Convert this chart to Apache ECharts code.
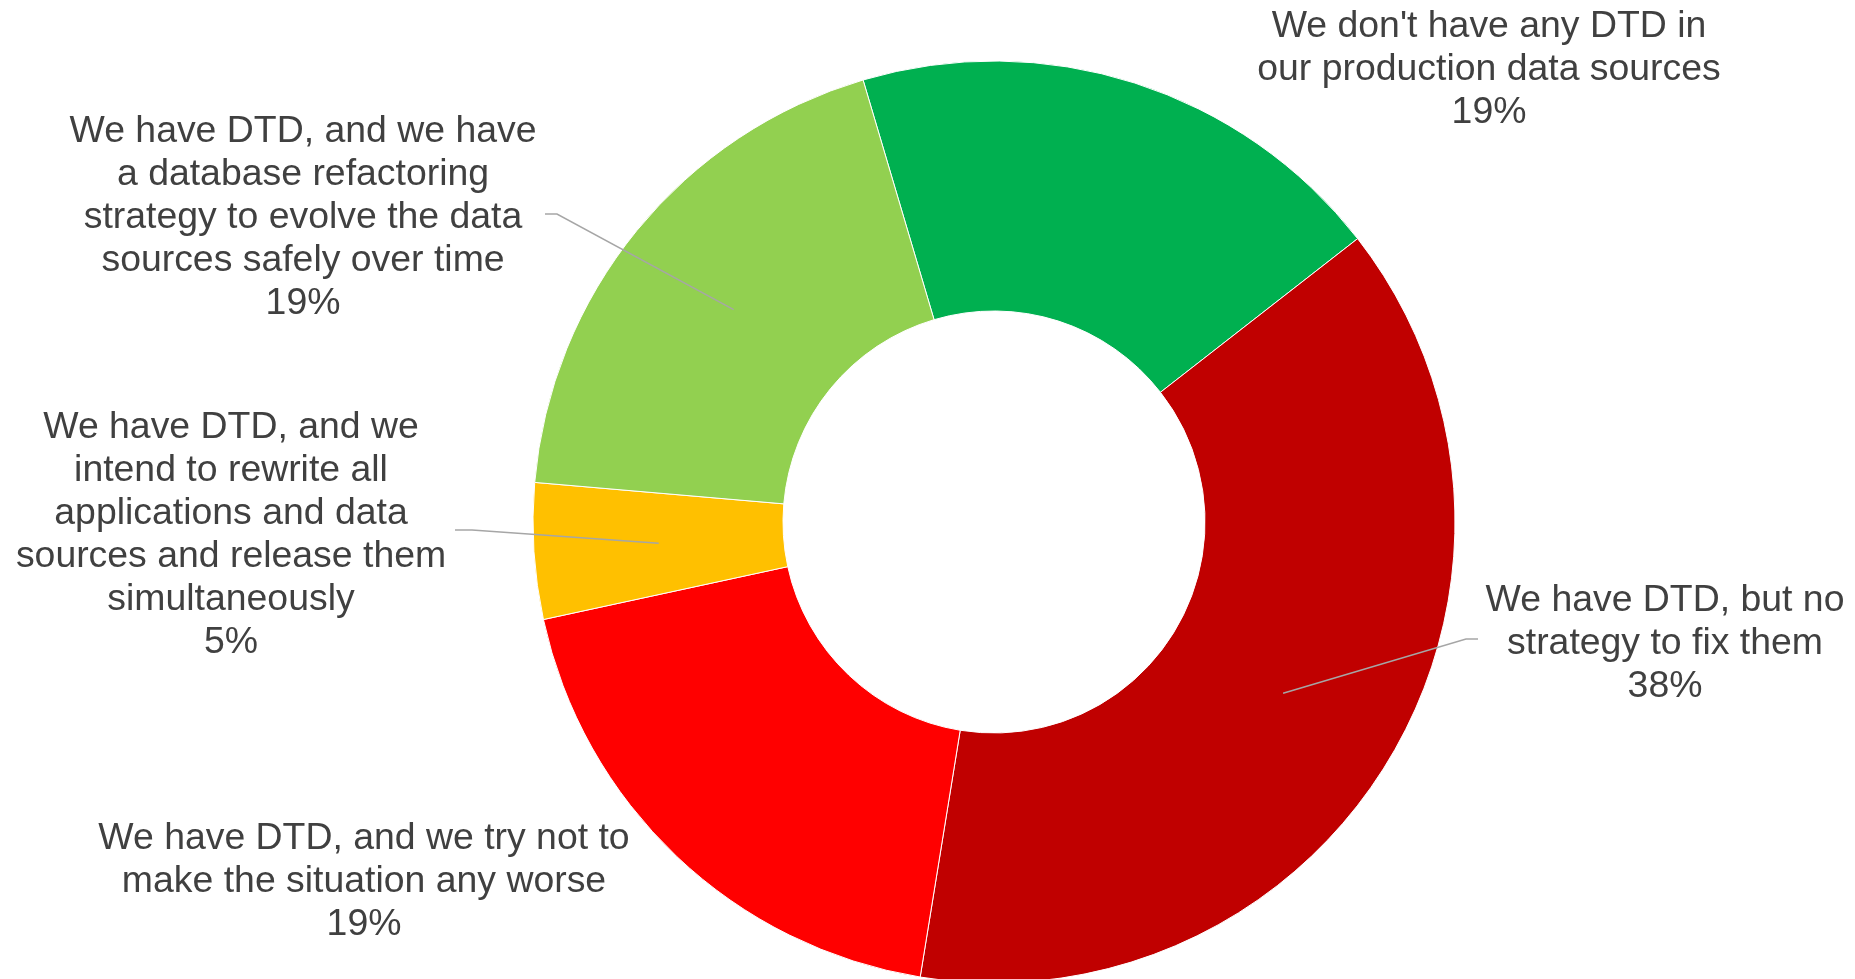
<!DOCTYPE html>
<html><head><meta charset="utf-8">
<script src="https://cdn.jsdelivr.net/npm/echarts@6/dist/echarts.min.js"></script>
<style>html,body{margin:0;padding:0;background:#fff}#c{width:1855px;height:979px}</style>
</head><body><div id="c"></div>
<script>
// Categories (label text, wrapped as in the reference)
const categories = [
  "We don't have any DTD in\nour production data sources",
  "We have DTD, but no\nstrategy to fix them",
  "We have DTD, and we try not to\nmake the situation any worse",
  "We have DTD, and we\nintend to rewrite all\napplications and data\nsources and release them\nsimultaneously",
  "We have DTD, and we have\na database refactoring\nstrategy to evolve the data\nsources safely over time"
];
// Response counts (percentages 19 / 38 / 19 / 5 / 19)
const values = [4, 8, 4, 1, 4];
const colors = ['#00B050', '#C00000', '#FF0000', '#FFC000', '#92D050'];
const showLeader = [false, true, false, true, true];

// label anchor positions (styling)
const labelPos = [[1489, 70], [1665, 644], [364, 882], [231, 535], [303, 218]];
const leaderEnd = [null, [[1466, 639], [1478, 639]], null, [[472, 530], [455, 530]], [[557, 214], [545, 214]]];

const chart = echarts.init(document.getElementById('c'), null, {renderer: 'canvas'});

const option = {
  backgroundColor: '#fff',
  animation: false,
  series: [{
    type: 'pie',
    center: [994, 522],
    radius: [211, 461],
    startAngle: 106.5,
    clockwise: true,
    avoidLabelOverlap: false,
    itemStyle: {borderColor: '#ffffff', borderWidth: 1},
    label: {
      show: true,
      position: 'outside',
      formatter: p => p.name + '\n' + Math.round(p.percent) + '%',
      color: '#404040',
      fontFamily: 'Liberation Sans, Arial, sans-serif',
      fontSize: 37.4,
      lineHeight: 43,
      align: 'center'
    },
    labelLine: {show: false},
    labelLayout: function (params) {
      const i = params.dataIndex;
      return {
        x: labelPos[i][0],
        y: labelPos[i][1],
        align: 'center',
        verticalAlign: 'middle'
      };
    },
    data: categories.map((c, i) => ({
      name: c,
      value: values[i],
      itemStyle: {color: colors[i]}
    }))
  }]
};
chart.setOption(option);

// Leader lines drawn on top of the slices, starting at each slice's mid point
function midPoint(idx) {
  const data = chart.getModel().getSeriesByIndex(0).getData();
  const L = data.getItemLayout(idx);
  const mid = (L.startAngle + L.endAngle) / 2;
  const rm = (L.r + L.r0) / 2;
  return [L.cx + rm * Math.cos(mid), L.cy + rm * Math.sin(mid)];
}
const graphics = [];
values.forEach((v, i) => {
  if (!showLeader[i]) return;
  const s = midPoint(i);
  graphics.push({
    type: 'polyline',
    z: 100,
    silent: true,
    shape: {points: [s, leaderEnd[i][0], leaderEnd[i][1]]},
    style: {stroke: '#A6A6A6', lineWidth: 1.5, fill: null}
  });
});
chart.setOption({graphic: graphics});
</script>
</body></html>
